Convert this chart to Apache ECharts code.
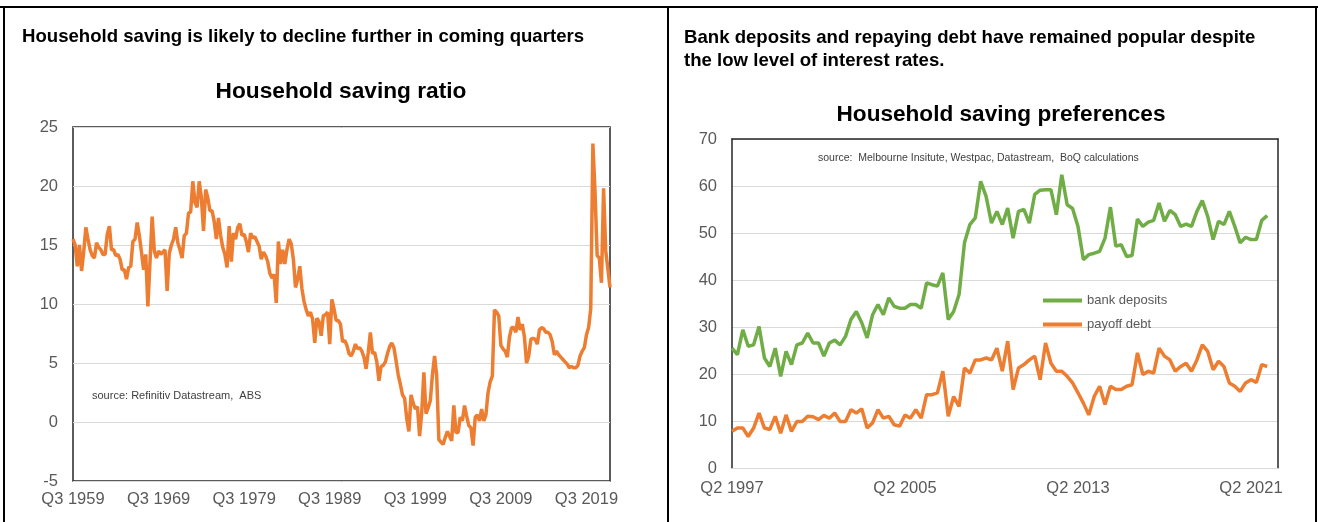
<!DOCTYPE html>
<html><head><meta charset="utf-8">
<script src="https://cdn.jsdelivr.net/npm/echarts@6/dist/echarts.min.js"></script>
<style>html,body{margin:0;padding:0;background:#fff}#c{width:1318px;height:522px}</style>
</head><body><div id="c"></div>
<script>
// Household saving ratio, quarterly from Q3 1959
const savingRatio = [
15.5,15.0,13.2,15.0,12.8,14.4,16.5,15.5,14.6,14.1,13.9,15.2,14.8,14.6,14.2,14.2,15.9,16.6,14.6,14.6,
14.1,14.2,13.8,12.9,12.9,12.1,13.1,13.2,15.3,15.5,16.9,15.8,14.4,12.9,14.2,9.8,13.6,17.4,14.5,13.9,
14.5,14.2,14.4,14.6,11.1,14.3,15.0,15.5,16.5,15.2,14.6,13.9,15.8,16.0,17.7,17.8,20.4,18.6,18.2,20.4,
19.0,16.2,19.7,19.0,17.9,17.9,17.0,15.5,17.3,15.8,14.8,14.2,13.1,16.6,13.6,16.0,15.5,16.5,16.8,15.8,
15.9,15.3,14.4,16.0,15.6,15.7,15.3,14.9,13.8,14.4,14.1,13.6,12.6,12.2,12.5,10.1,15.3,13.4,14.6,13.4,
14.6,15.5,15.1,13.8,11.4,12.1,13.2,11.3,10.2,9.5,9.0,9.3,8.7,6.7,8.8,8.5,7.3,9.0,9.1,9.3,
6.6,10.4,9.6,8.6,8.6,8.3,6.8,6.9,6.5,5.8,5.6,6.0,6.6,6.2,6.3,6.0,5.5,4.5,5.9,7.6,
5.8,5.9,5.1,3.5,4.7,4.8,5.1,5.8,6.4,6.7,6.3,5.2,4.0,3.2,2.3,2.0,0.3,-0.8,2.3,1.6,
1.1,1.3,-1.2,0.8,4.2,0.7,1.2,1.8,4.0,5.6,3.9,-1.5,-1.7,-1.9,-1.3,-0.8,-1.2,-1.6,1.4,-0.9,
-0.9,0.4,0.1,1.4,0.5,-0.3,-0.5,-2.0,0.4,0.6,0.1,1.1,0.1,0.6,2.5,3.4,3.9,9.5,9.3,9.0,
6.5,6.2,6.0,5.5,7.2,8.0,8.0,7.6,8.9,7.8,8.3,7.2,5.0,5.6,7.0,7.1,7.0,6.6,7.8,8.0,
7.9,7.6,7.6,7.4,6.8,5.7,6.0,5.7,5.5,5.3,5.1,4.9,4.6,4.7,4.6,4.6,4.8,5.6,6.0,6.3,
7.4,8.0,9.6,23.6,19.5,14.1,13.9,11.8,19.8,14.5,13.0,11.4
];
// Household saving preferences, quarterly from Q2 1997 (% of respondents)
const bankDeposits = [
25.5,24.1,29.4,25.9,26.2,30.1,23.4,21.6,25.5,19.5,24.8,22.0,26.2,26.6,28.7,26.6,26.6,23.8,26.6,27.2,
26.2,28.0,31.6,33.3,30.9,27.7,32.6,34.8,32.6,36.2,34.4,34.0,34.0,34.8,34.8,34.0,39.4,39.0,38.7,41.5,
31.6,33.3,36.9,47.9,51.8,53.2,61.0,57.8,52.1,54.6,51.8,55.3,48.9,54.6,55.0,52.1,58.2,59.1,59.2,59.2,
53.9,62.4,56.0,55.2,51.4,44.3,45.4,45.7,46.1,48.9,55.5,47.2,47.5,45.0,45.2,53.0,51.4,52.3,52.7,56.4,
52.5,54.8,53.9,51.4,51.9,51.4,54.6,56.9,53.5,48.6,52.5,51.8,54.6,51.4,47.9,49.1,48.6,48.6,52.7,53.7
];
const payoffDebt = [
7.8,8.5,8.5,6.7,8.5,11.7,8.5,8.2,11.0,7.4,11.3,7.8,9.9,9.9,11.0,10.9,10.3,11.2,10.6,11.7,
9.9,9.9,12.4,11.7,12.6,8.5,9.6,12.4,10.6,11.0,9.2,8.9,11.3,10.6,12.4,10.6,15.6,15.6,16.0,20.6,
11.0,15.2,13.1,21.3,20.2,23.0,23.0,23.4,23.0,25.5,20.6,27.0,16.7,21.3,22.0,23.0,23.8,18.8,26.6,22.3,
20.6,20.6,19.5,18.1,16.0,13.8,11.3,15.2,17.4,13.5,17.4,16.7,16.7,17.4,17.7,24.5,19.9,20.6,20.2,25.5,
23.8,23.0,20.6,21.6,22.3,20.6,23.0,26.2,24.8,20.9,22.7,21.6,18.1,17.4,16.3,18.1,18.8,18.2,22.0,21.6
];
const leftStart = [3, 1959], leftCount = 252;
const rightStart = [2, 1997], rightCount = 102;
const leftYTicks = [-5, 25, 5];
const rightYTicks = [0, 70, 10];
const seriesNames = ['bank deposits', 'payoff debt'];

function quarterLabels(start, n) {
  const out = []; let q = start[0], y = start[1];
  for (let k = 0; k < n; k++) { out.push('Q' + q + ' ' + y); q++; if (q > 4) { q = 1; y++; } }
  return out;
}
const leftCats = quarterLabels(leftStart, leftCount);
const rightCats = quarterLabels(rightStart, rightCount);

const FONT = '"Liberation Sans", Arial, sans-serif';
const ORANGE = '#ED7D31', GREEN = '#70AD47', LABEL = '#595959', GRID = '#D9D9D9', FRAME = '#262626';
const axisLabel = { color: LABEL, fontSize: 16.5, fontFamily: FONT };

const chart = echarts.init(document.getElementById('c'), null, { renderer: 'canvas' });
chart.setOption({
  animation: false,
  backgroundColor: '#fff',
  textStyle: { fontFamily: FONT },
  grid: [
    { left: 73, top: 127, width: 537, height: 354, show: true, borderColor: FRAME, borderWidth: 1.5, backgroundColor: 'transparent' },
    { left: 732, top: 139, width: 546, height: 329, show: false }
  ],
  xAxis: [
    { gridIndex: 0, type: 'category', data: leftCats, boundaryGap: false,
      axisLine: { show: false, onZero: false }, axisTick: { show: false }, splitLine: { show: false },
      axisLabel: Object.assign({ interval: 39, margin: 10 }, axisLabel) },
    { gridIndex: 1, type: 'category', data: rightCats, boundaryGap: false,
      axisLine: { show: true, onZero: false, lineStyle: { color: GRID, width: 1 } }, axisTick: { show: false }, splitLine: { show: false },
      axisLabel: Object.assign({ interval: 31, margin: 12 }, axisLabel) },
    { gridIndex: 1, type: 'category', data: rightCats, boundaryGap: false, position: 'top',
      axisLine: { show: true, onZero: false, lineStyle: { color: FRAME, width: 1.5 } }, axisTick: { show: false },
      axisLabel: { show: false }, splitLine: { show: false } }
  ],
  yAxis: [
    { gridIndex: 0, type: 'value', min: leftYTicks[0], max: leftYTicks[1], interval: leftYTicks[2],
      axisLine: { show: false }, axisTick: { show: false },
      axisLabel: Object.assign({ margin: 15 }, axisLabel),
      splitLine: { lineStyle: { color: GRID, width: 1 } } },
    { gridIndex: 1, type: 'value', min: rightYTicks[0], max: rightYTicks[1], interval: rightYTicks[2],
      axisLine: { show: true, lineStyle: { color: FRAME, width: 1.5 } }, axisTick: { show: false },
      axisLabel: Object.assign({ margin: 15 }, axisLabel),
      splitLine: { lineStyle: { color: GRID, width: 1 } } },
    { gridIndex: 1, type: 'value', position: 'right', min: rightYTicks[0], max: rightYTicks[1], interval: rightYTicks[2],
      axisLine: { show: true, lineStyle: { color: FRAME, width: 1.5 } }, axisTick: { show: false },
      axisLabel: { show: false }, splitLine: { show: false } }
  ],
  legend: {
    data: seriesNames, orient: 'vertical', left: 1038, top: 289, itemWidth: 39, itemHeight: 4, itemGap: 11,
    icon: 'rect', textStyle: { color: LABEL, fontSize: 13, fontFamily: FONT }
  },
  series: [
    { name: 'Household saving ratio', type: 'line', xAxisIndex: 0, yAxisIndex: 0, data: savingRatio,
      symbol: 'none', color: ORANGE, lineStyle: { color: ORANGE, width: 3.5 } },
    { name: seriesNames[0], type: 'line', xAxisIndex: 1, yAxisIndex: 1, data: bankDeposits,
      symbol: 'none', color: GREEN, lineStyle: { color: GREEN, width: 3.5 } },
    { name: seriesNames[1], type: 'line', xAxisIndex: 1, yAxisIndex: 1, data: payoffDebt,
      symbol: 'none', color: ORANGE, lineStyle: { color: ORANGE, width: 3.5 } }
  ],
  graphic: [
    { type: 'line', shape: { x1: 0, y1: 7, x2: 1318, y2: 7 }, style: { stroke: '#000', lineWidth: 2 } },
    { type: 'line', shape: { x1: 4, y1: 7, x2: 4, y2: 522 }, style: { stroke: '#000', lineWidth: 2 } },
    { type: 'line', shape: { x1: 668, y1: 7, x2: 668, y2: 522 }, style: { stroke: '#000', lineWidth: 2 } },
    { type: 'line', shape: { x1: 1316, y1: 7, x2: 1316, y2: 522 }, style: { stroke: '#000', lineWidth: 2 } },
    { type: 'text', x: 22, y: 37, style: { text: 'Household saving is likely to decline further in coming quarters',
      font: 'bold 18.6px ' + FONT, fill: '#000', textVerticalAlign: 'middle' } },
    { type: 'text', x: 341, y: 92, style: { text: 'Household saving ratio',
      font: 'bold 22.7px ' + FONT, fill: '#000', textAlign: 'center', textVerticalAlign: 'middle' } },
    { type: 'text', x: 92, y: 396, style: { text: 'source: Refinitiv Datastream,  ABS',
      font: '11px ' + FONT, fill: '#404040', textVerticalAlign: 'middle' } },
    { type: 'text', x: 684, y: 26, style: { text: 'Bank deposits and repaying debt have remained popular despite\nthe low level of interest rates.',
      font: 'bold 18.6px ' + FONT, lineHeight: 23, fill: '#000' } },
    { type: 'text', x: 1001, y: 115, style: { text: 'Household saving preferences',
      font: 'bold 22.6px ' + FONT, fill: '#000', textAlign: 'center', textVerticalAlign: 'middle' } },
    { type: 'text', x: 818, y: 158, style: { text: 'source:  Melbourne Insitute, Westpac, Datastream,  BoQ calculations',
      font: '10.5px ' + FONT, fill: '#404040', textVerticalAlign: 'middle' } }
  ]
});
</script></body></html>
